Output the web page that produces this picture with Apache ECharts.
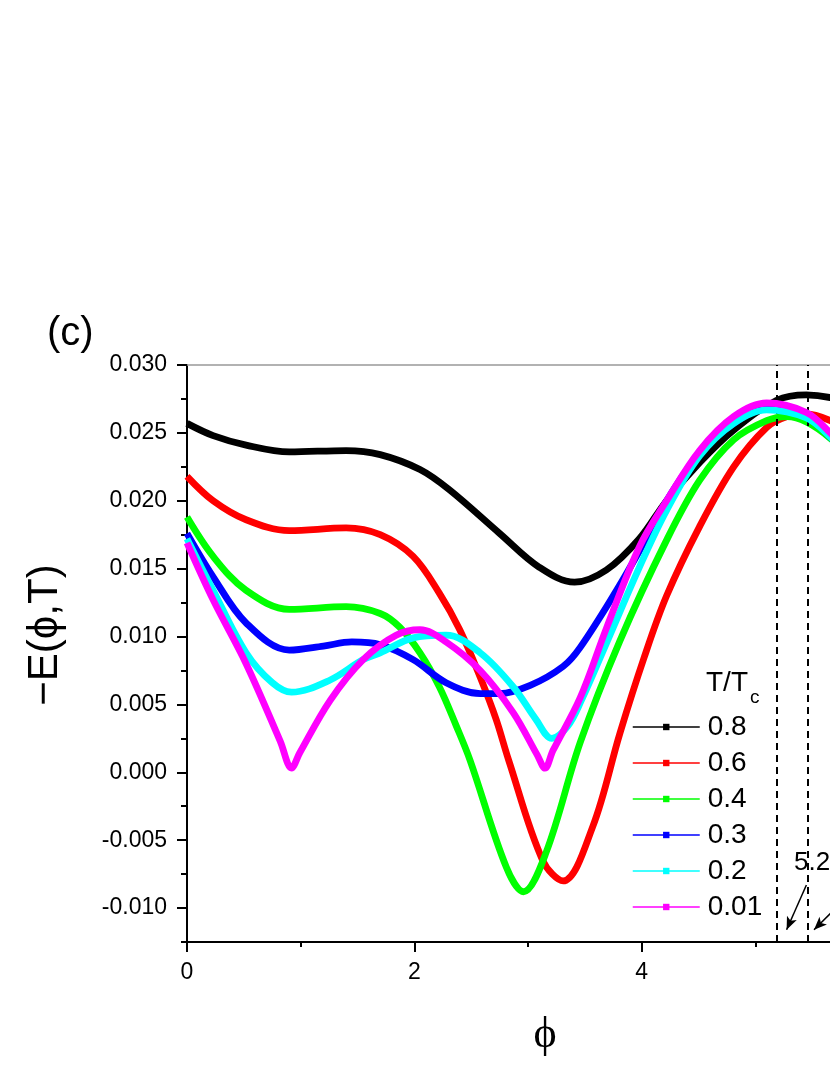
<!DOCTYPE html>
<html>
<head>
<meta charset="utf-8">
<script src="https://cdn.jsdelivr.net/npm/echarts@6/dist/echarts.min.js"></script>
<style>
html, body { margin: 0; padding: 0; background: #fff; }
#chart { width: 830px; height: 1075px; }
</style>
</head>
<body>
<div id="chart"></div>
<script>
// T/Tc values of the curves
var tRatio = ['0.8', '0.6', '0.4', '0.3', '0.2', '0.01'];

// -E(phi,T)
var phi08 = [0, 0.23, 0.52, 0.9, 1.4, 1.7, 2.05, 2.31, 2.75, 3.1, 3.41, 3.69, 3.98, 4.22, 4.51, 4.81, 5.19, 5.45, 5.66, 5.9];
var e08 = [0.0257, 0.0248, 0.0241, 0.0236, 0.0237, 0.0234, 0.0223, 0.0208, 0.0176, 0.0151, 0.0140, 0.0149, 0.0172, 0.0200, 0.0228, 0.0252, 0.0274, 0.0278, 0.0276, 0.0270];

var phi06 = [0, 0.23, 0.52, 0.9, 1.4, 1.7, 1.99, 2.22, 2.4, 2.58, 2.72, 2.83, 3.13, 3.31, 3.57, 3.81, 4.02, 4.22, 4.51, 4.81, 5.1, 5.28, 5.45, 5.66, 5.9];
var e06 = [0.0218, 0.0200, 0.0186, 0.0178, 0.0180, 0.0175, 0.0159, 0.0132, 0.0105, 0.0070, 0.0039, 0.0009, -0.0065, -0.0080, -0.0040, 0.0029, 0.0084, 0.0130, 0.0181, 0.0225, 0.0254, 0.0262, 0.0264, 0.0259, 0.0248];

var phi04 = [0, 0.23, 0.52, 0.9, 1.4, 1.7, 1.87, 2.05, 2.22, 2.37, 2.49, 2.81, 2.96, 3.16, 3.46, 3.81, 4.22, 4.51, 4.81, 5.1, 5.28, 5.45, 5.66, 5.9];
var e04 = [0.0188, 0.0159, 0.0134, 0.0120, 0.0122, 0.0117, 0.0107, 0.0088, 0.0063, 0.0034, 0.0009, -0.0070, -0.0088, -0.0059, 0.0022, 0.0097, 0.0171, 0.0215, 0.0245, 0.0259, 0.0262, 0.0258, 0.0246, 0.0226];

var phi03 = [0, 0.23, 0.52, 0.9, 1.2, 1.45, 1.7, 1.99, 2.28, 2.58, 2.75, 3.02, 3.31, 3.46, 3.78, 3.98, 4.22, 4.51, 4.81, 5.1, 5.45, 5.66, 5.9];
var e03 = [0.0176, 0.0144, 0.0110, 0.0090, 0.0093, 0.0096, 0.0094, 0.0083, 0.0066, 0.0058, 0.0058, 0.0064, 0.0078, 0.0092, 0.0134, 0.0163, 0.0200, 0.0235, 0.0257, 0.0268, 0.0262, 0.0247, 0.0225];

var phi02 = [0, 0.23, 0.52, 0.75, 0.92, 1.26, 1.55, 1.7, 1.99, 2.28, 2.58, 2.87, 3.07, 3.21, 3.35, 3.47, 3.69, 3.98, 4.22, 4.51, 4.81, 5.1, 5.45, 5.66, 5.9];
var e02 = [0.0172, 0.0134, 0.0088, 0.0066, 0.0059, 0.0068, 0.0083, 0.0088, 0.0099, 0.0101, 0.0088, 0.0063, 0.0039, 0.0025, 0.0034, 0.0053, 0.0095, 0.0151, 0.0193, 0.0233, 0.0257, 0.0267, 0.0261, 0.0247, 0.0225];

var phi001 = [0, 0.23, 0.52, 0.82, 0.92, 0.99, 1.26, 1.55, 1.84, 2.05, 2.28, 2.58, 2.87, 3.08, 3.15, 3.22, 3.46, 3.69, 3.98, 4.22, 4.51, 4.81, 5.1, 5.45, 5.66, 5.9];
var e001 = [0.0169, 0.0127, 0.0080, 0.0023, 0.0003, 0.0014, 0.0053, 0.0083, 0.0101, 0.0105, 0.0096, 0.0075, 0.0044, 0.0013, 0.0003, 0.0016, 0.0055, 0.0106, 0.0166, 0.0200, 0.0237, 0.0262, 0.0272, 0.0265, 0.0250, 0.0228];

// axis ticks
var xMajorTicks = [0, 2, 4, 6];
var xMinorTicks = [1, 3, 5];
var yMajorTicks = [-0.01, -0.005, 0, 0.005, 0.01, 0.015, 0.02, 0.025, 0.03];
var yMinorTicks = [-0.0125, -0.0075, -0.0025, 0.0025, 0.0075, 0.0125, 0.0175, 0.0225, 0.0275];

// dashed markers and arrows (phi, E)
var dashPhi = [5.19, 5.46];
var arrow1 = [[5.45, -0.0083], [5.276, -0.0116]];
var arrow2 = [[5.83, -0.0090], [5.517, -0.0116]];

var phiList = [phi08, phi06, phi04, phi03, phi02, phi001];
var eList = [e08, e06, e04, e03, e02, e001];
var colors = ['#000000', '#ff0000', '#00ff00', '#0000ff', '#00ffff', '#ff00ff'];

var FONT = 'Liberation Sans, Arial, sans-serif';

var myChart = echarts.init(document.getElementById('chart'));

var series = tRatio.map(function(name, i) {
	return {
		name: name,
		type: 'line',
		smooth: 0.35,
		symbol: 'rect',
		symbolSize: 7,
		showSymbol: false,
		xAxisIndex: 0,
		yAxisIndex: 0,
		z: 2 + i,
		data: phiList[i].map(function(p, k) { return [p, eList[i][k]]; }),
		lineStyle: { color: colors[i], width: 6.8 },
		itemStyle: { color: colors[i] }
	};
});

// dashed lines + arrows on top
series[series.length - 1].markLine = {
	silent: true,
	animation: false,
	symbol: 'none',
	label: { show: false },
	lineStyle: { color: '#000', type: [7, 5], width: 2 },
	data: [
		{ xAxis: dashPhi[0] },
		{ xAxis: dashPhi[1] },
		[
			{ coord: arrow1[0], symbol: 'none', lineStyle: { type: 'solid', width: 1.5, color: '#000' } },
			{ coord: arrow1[1], symbol: 'arrow', symbolSize: [8, 13] }
		],
		[
			{ coord: arrow2[0], symbol: 'none', lineStyle: { type: 'solid', width: 1.5, color: '#000' } },
			{ coord: arrow2[1], symbol: 'arrow', symbolSize: [8, 13] }
		]
	]
};

var option = {
	animation: false,
	backgroundColor: '#fff',
	grid: { left: 187, top: 365, width: 716, height: 577, outerBoundsMode: 'none', containLabel: false },
	xAxis: [ {
		type: 'value', min: 0, max: 6.3, position: 'bottom',
		axisLine: { onZero: false, lineStyle: { color: '#000', width: 2 } },
		axisTick: { customValues: xMajorTicks, length: 10, lineStyle: { color: '#000', width: 2 } },
		axisLabel: { customValues: xMajorTicks, margin: 19, color: '#000', fontSize: 23, fontFamily: FONT },
		splitLine: { show: false }
	}, {
		type: 'value', min: 0, max: 6.3, position: 'bottom',
		axisLine: { show: false, onZero: false },
		axisTick: { customValues: xMinorTicks, length: 5, lineStyle: { color: '#000', width: 2 } },
		axisLabel: { show: false },
		splitLine: { show: false }
	}, {
		type: 'value', min: 0, max: 6.3, position: 'top',
		axisLine: { onZero: false, lineStyle: { color: '#999', width: 1.5 } },
		axisTick: { show: false },
		axisLabel: { show: false },
		splitLine: { show: false }
	} ],
	yAxis: [ {
		type: 'value', min: -0.0125, max: 0.03, position: 'left',
		axisLine: { show: true, onZero: false, lineStyle: { color: '#000', width: 2 } },
		axisTick: { show: true, customValues: yMajorTicks, length: 10, lineStyle: { color: '#000', width: 2 } },
		axisLabel: {
			customValues: yMajorTicks, margin: 20, color: '#000', fontSize: 23, fontFamily: FONT,
			formatter: function(v) { return v.toFixed(3); }
		},
		splitLine: { show: false }
	}, {
		type: 'value', min: -0.0125, max: 0.03, position: 'left',
		axisLine: { show: false, onZero: false },
		axisTick: { show: true, customValues: yMinorTicks, length: 6, lineStyle: { color: '#000', width: 2 } },
		axisLabel: { show: false },
		splitLine: { show: false }
	} ],
	legend: {
		orient: 'vertical',
		left: 632,
		top: 712,
		padding: 0,
		itemWidth: 67,
		itemHeight: 8,
		itemGap: 6,
		selectedMode: false,
		data: tRatio,
		lineStyle: { width: 1.5 },
		textStyle: { color: '#000', fontSize: 28, lineHeight: 30, fontFamily: FONT, padding: [0, 0, 0, 3] }
	},
	graphic: [
		{ type: 'text', left: 47, top: 314, style: { text: '(c)', fontSize: 40, fontFamily: FONT, fill: '#000' } },
		{ type: 'text', x: 45, y: 635, rotation: Math.PI / 2,
			style: { text: '\u2212E(\u03d5,T)', fontSize: 42, fontFamily: FONT, fill: '#000', align: 'center', verticalAlign: 'middle' } },
		{ type: 'text', x: 545, y: 1035,
			style: { text: '\u03d5', fontSize: 44, fontFamily: 'Liberation Serif, DejaVu Serif, serif', fill: '#000', align: 'center', verticalAlign: 'middle' } },
		{ type: 'text', x: 706, y: 683,
			style: { text: 'T/T', fontSize: 28, fontFamily: FONT, fill: '#000', align: 'left', verticalAlign: 'middle' } },
		{ type: 'text', x: 750, y: 698,
			style: { text: 'c', fontSize: 19, fontFamily: FONT, fill: '#000', align: 'left', verticalAlign: 'middle' } },
		{ type: 'text', x: 794, y: 863,
			style: { text: '5.2', fontSize: 26, fontFamily: FONT, fill: '#000', align: 'left', verticalAlign: 'middle' } }
	],
	series: series
};

myChart.setOption(option);
</script>
</body>
</html>
